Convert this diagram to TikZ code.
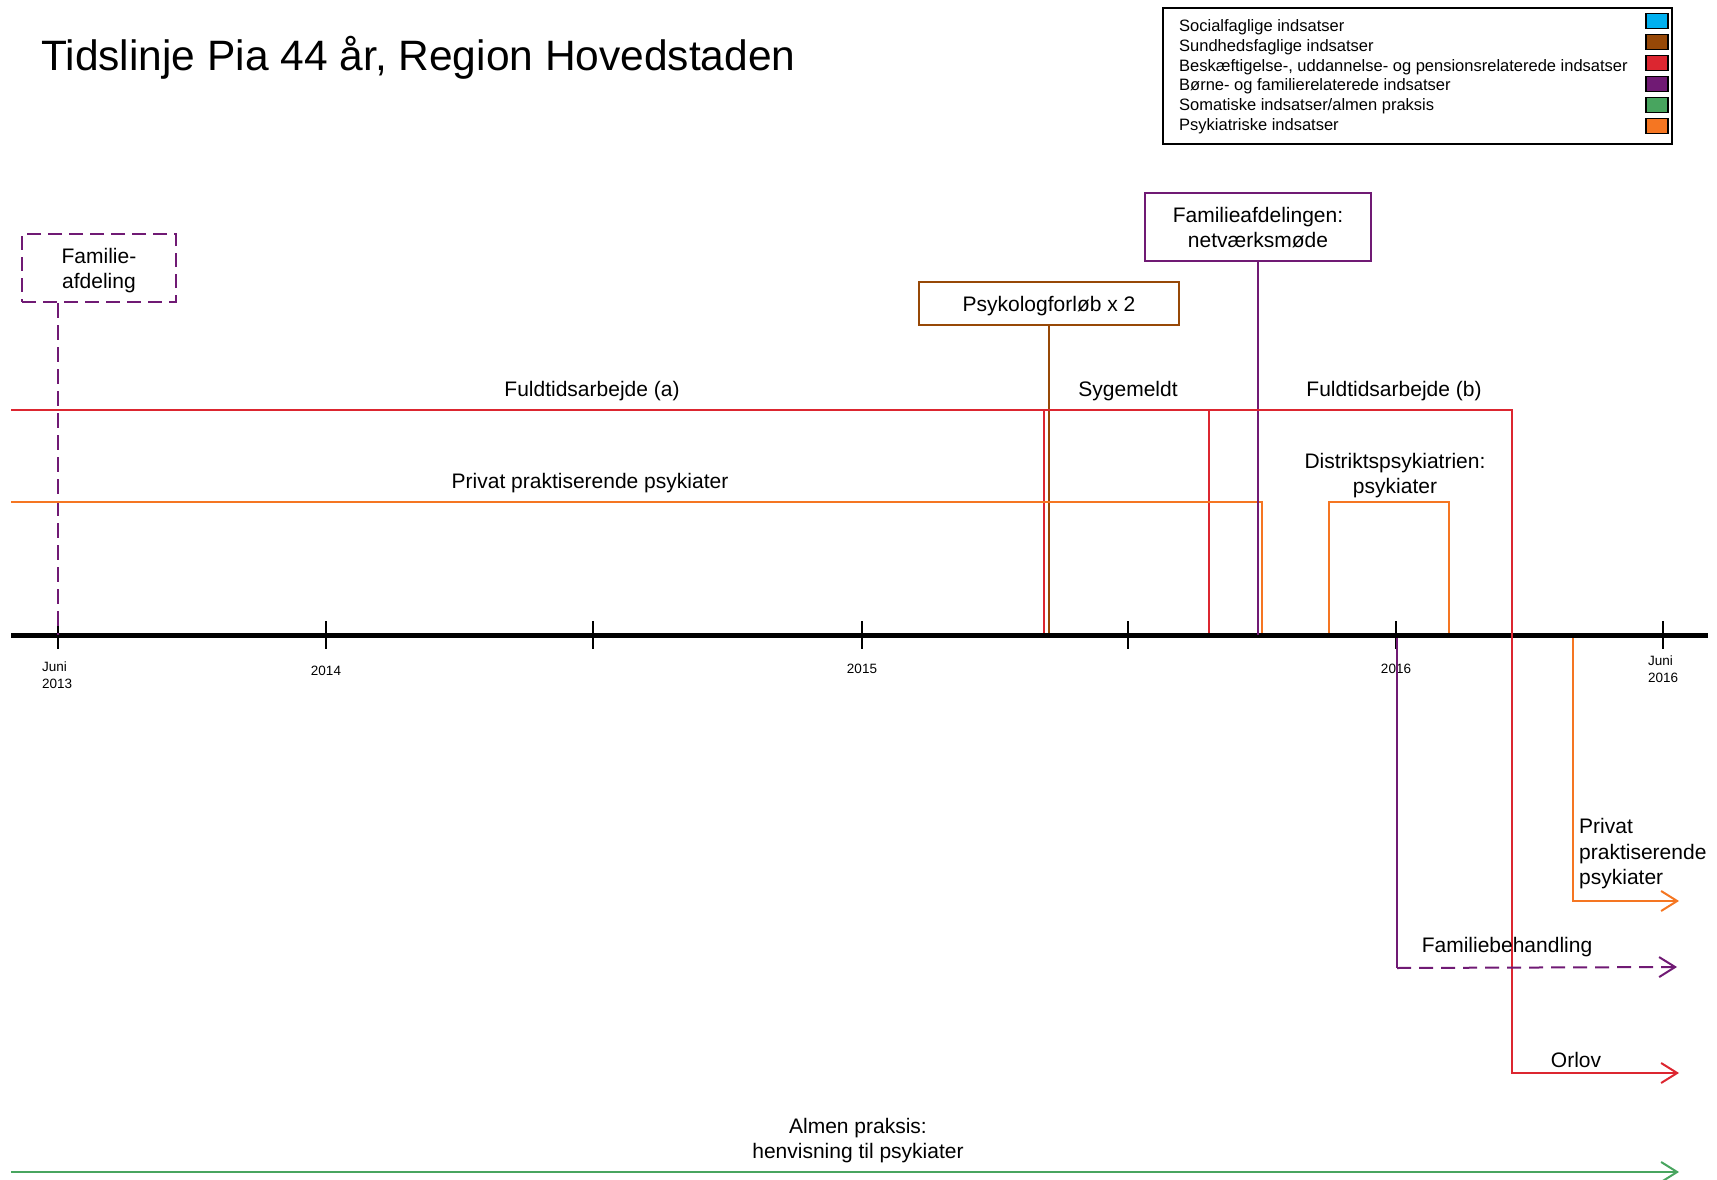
\documentclass[tikz,border=0pt]{standalone}
\usepackage{fontspec}
\setmainfont{Liberation Sans}
\usetikzlibrary{arrows.meta}
\definecolor{cSoc}{RGB}{0,176,240}
\definecolor{cSund}{RGB}{151,72,7}
\definecolor{cBesk}{RGB}{220,38,48}
\definecolor{cBorn}{RGB}{112,26,116}
\definecolor{cSom}{RGB}{72,165,95}
\definecolor{cPsyk}{RGB}{245,118,34}
\tikzset{
  lbl/.style={inner sep=0pt, font=\fontsize{21}{25}\selectfont, align=center},
  leg/.style={inner sep=0pt, anchor=west, font=\fontsize{16.5}{20}\selectfont},
  swatch/.style={draw=black, line width=1.5pt, minimum width=22pt, minimum height=15pt, inner sep=0pt},
  tlbl/.style={inner sep=0pt, font=\fontsize{13.5}{17}\selectfont, align=left},
  evbox/.style={draw, line width=2pt, inner sep=0pt, font=\fontsize{21}{25}\selectfont, align=center},
  tick/.style={line width=1.5pt, black},
  bar/.style={line width=2pt},
  tip/.style={-{Straight Barb[length=16pt,width=20pt,line width=2pt]}},
}
\begin{document}
\begin{tikzpicture}[x=1pt,y=-1pt]
\useasboundingbox (0,0) rectangle (1717,1180);
% title
\node[anchor=west, inner sep=0pt, font=\fontsize{42.5}{50}\selectfont] (title) at (41,57.5) {Tidslinje Pia 44 år, Region Hovedstaden};
% legend
\node[draw, line width=2pt, anchor=north west, minimum width=509pt, minimum height=136pt, inner sep=0pt] (legend) at (1162,7) {};
\node[leg] (l1) at (1179,27) {Socialfaglige indsatser};
\node[leg] (l2) at (1179,47) {Sundhedsfaglige indsatser};
\node[leg] (l3) at (1179,67) {Beskæftigelse-, uddannelse- og pensionsrelaterede indsatser};
\node[leg] (l4) at (1179,86) {Børne- og familierelaterede indsatser};
\node[leg] (l5) at (1179,106) {Somatiske indsatser/almen praksis};
\node[leg] (l6) at (1179,126) {Psykiatriske indsatser};
\node[swatch, fill=cSoc] (s1) at (1657,21) {};
\node[swatch, fill=cSund] (s2) at (1657,42) {};
\node[swatch, fill=cBesk] (s3) at (1657,63) {};
\node[swatch, fill=cBorn] (s4) at (1657,84) {};
\node[swatch, fill=cSom] (s5) at (1657,105) {};
\node[swatch, fill=cPsyk] (s6) at (1657,126) {};
% axis and ticks
\coordinate (axL) at (11,635);
\coordinate (axR) at (1708,635);
\foreach \n/\x in {1/58,2/326,3/593,4/862,5/1128,6/1396,7/1663}{
  \coordinate (t\n) at (\x,635);
  \draw[tick] (\x,621) -- (\x,649);
}
\draw[line width=5pt, black] (axL) -- (axR);
\node[tlbl, anchor=north west] (lb1) at (42,662) {Juni\\2013};
\node[tlbl] (lb2) at (326,671) {2014};
\node[tlbl] (lb4) at (862,669) {2015};
\node[tlbl] (lb6) at (1396,669) {2016};
\node[tlbl, anchor=north west] (lb7) at (1648,656) {Juni\\2016};
% boxes
\node[evbox, draw=cBorn, dashed, dash pattern=on 14pt off 7pt, minimum width=154pt, minimum height=68pt] (famA) at (99,268) {};
\node[lbl] (famAt) at (99,270.5) {Familie-\\afdeling};
\node[evbox, draw=cSund, minimum width=260pt, minimum height=43pt] (psyk) at (1049,303.5) {};
\node[lbl] (psykt) at (1049,306.5) {Psykologforløb x 2};
\node[evbox, draw=cBorn, minimum width=226pt, minimum height=68pt] (famN) at (1258,227) {};
\node[lbl] (famNt) at (1258,228) {Familieafdelingen:\\netværksmøde};
% named points
\coordinate (rL) at (11,410);
\coordinate (rB) at (1512,410);
\coordinate (rC) at (1512,1073);
\coordinate (rE) at (1679,1073);
\coordinate (oL) at (11,502);
\coordinate (oB) at (1262,502);
\coordinate (oE) at (1262,633);
\coordinate (dA) at (1329,633);
\coordinate (dB) at (1329,502);
\coordinate (dC) at (1449,502);
\coordinate (dD) at (1449,633);
\coordinate (pA) at (1573,638);
\coordinate (pB) at (1573,901);
\coordinate (pE) at (1679,901);
\coordinate (fA) at (1397,638);
\coordinate (fB) at (1397,968);
\coordinate (fE) at (1677,967);
\coordinate (gL) at (11,1172);
\coordinate (gE) at (1679,1172);
\coordinate (sA) at (1044,410);
\coordinate (sB) at (1209,410);
% connectors
\draw[bar, cBorn, dash pattern=on 15pt off 7pt] (famA.south -| t1) -- (t1);
\draw[bar, cBesk] (sA) -- (sA |- 0,633);
\draw[bar, cBesk] (sB) -- (sB |- 0,633);
\draw[line width=1.5pt, cSund] (psyk.south) -- (psyk.south |- 0,633);
\draw[bar, cPsyk] (oL) -- (oB) -- (oE);
\draw[bar, cPsyk] (dA) -- (dB) -- (dC) -- (dD);
\draw[bar, cBorn] (famN.south) -- (famN.south |- t1);
\draw[bar, cBesk, tip] (rL) -- (rB) -- (rC) -- (rE);
\draw[bar, cPsyk, tip] (pA) -- (pB) -- (pE);
\draw[bar, cBorn] (fA) -- (fB);
\draw[bar, cBorn, dash pattern=on 14pt off 8pt, tip] (fB) -- (fE);
\draw[line width=2.5pt, cSom, tip] (gL) -- (gE);
% labels
\node[lbl] (tA) at (592,391.5) {Fuldtidsarbejde (a)};
\node[lbl] (tS) at (1128,391.5) {Sygemeldt};
\node[lbl] (tB) at (1394,391.5) {Fuldtidsarbejde (b)};
\node[lbl] (tP) at (590,483.5) {Privat praktiserende psykiater};
\node[lbl] (tD) at (1395,476) {Distriktspsykiatrien:\\psykiater};
\node[lbl, anchor=west, align=left, font=\fontsize{21}{25.5}\selectfont] (tP2) at (1579,854) {Privat\\praktiserende\\psykiater};
\node[lbl] (tF) at (1507,947) {Familiebehandling};
\node[lbl] (tO) at (1576,1059.5) {Orlov};
\node[lbl] (tG) at (858,1141) {Almen praksis:\\henvisning til psykiater};
\end{tikzpicture}
\end{document}
